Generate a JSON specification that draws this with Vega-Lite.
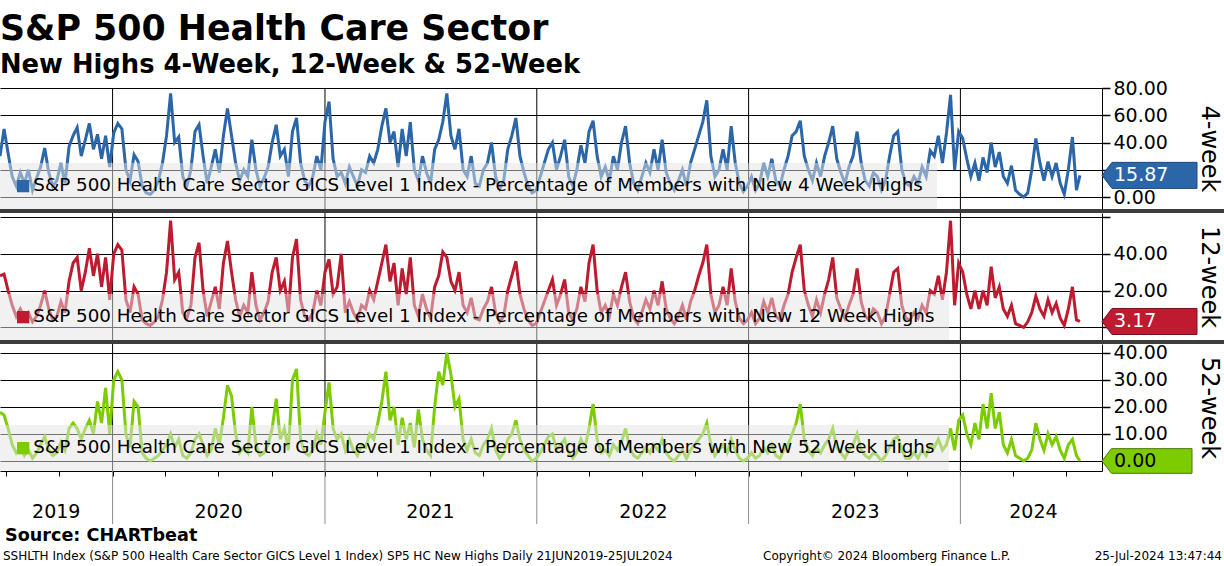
{
"$schema": "https://vega.github.io/schema/vega-lite/v6.json",
"padding": {"left": 0, "top": 12, "right": 0, "bottom": 0},
"background": "white",
"bounds": "flush",
"spacing": 0,
"resolve": {"scale": {"color": "independent", "x": "independent", "y": "independent"}, "legend": {"color": "independent"}},
"title": {"text": "S&P 500 Health Care Sector", "subtitle": "New Highs 4-Week, 12-Week & 52-Week", "anchor": "start", "frame": "group", "font": "DejaVu Sans", "fontSize": 34.8, "fontWeight": "bold", "color": "black", "subtitleFont": "DejaVu Sans", "subtitleFontSize": 25.8, "subtitleFontWeight": "bold", "subtitleColor": "black", "subtitlePadding": 5, "offset": 0},
"config": {
  "view": {"stroke": null},
  "axis": {"labelFont": "DejaVu Sans", "titleFont": "DejaVu Sans", "labelColor": "black", "titleColor": "black", "domainColor": "black", "tickColor": "black", "gridColor": "black", "labelOverlap": false},
  "text": {"font": "DejaVu Sans"}
},
"datasets": {
"yrs": [{"d":"2020-01-01"},{"d":"2021-01-01"},{"d":"2022-01-01"},{"d":"2023-01-01"},{"d":"2024-01-01"}],
"hc": [
{"d":"2019-06-21","a":30,"b":28,"c":18},{"d":"2019-06-28","a":50,"b":29,"c":17},{"d":"2019-07-05","a":32,"b":20,"c":12},{"d":"2019-07-12","a":15,"b":12,"c":6},{"d":"2019-07-19","a":8,"b":6,"c":3},{"d":"2019-07-26","a":18,"b":10,"c":5},{"d":"2019-08-02","a":10,"b":5,"c":2},{"d":"2019-08-09","a":20,"b":8,"c":4},{"d":"2019-08-16","a":5,"b":3,"c":1},{"d":"2019-08-23","a":14,"b":6,"c":3},{"d":"2019-08-30","a":22,"b":12,"c":6},{"d":"2019-09-06","a":36,"b":20,"c":9},{"d":"2019-09-13","a":18,"b":10,"c":4},{"d":"2019-09-20","a":8,"b":4,"c":2},{"d":"2019-09-27","a":12,"b":6,"c":3},{"d":"2019-10-04","a":25,"b":14,"c":7},{"d":"2019-10-11","a":10,"b":8,"c":4},{"d":"2019-10-18","a":37,"b":25,"c":12},{"d":"2019-10-25","a":45,"b":35,"c":14},{"d":"2019-11-01","a":51,"b":38,"c":12},{"d":"2019-11-08","a":30,"b":20,"c":8},{"d":"2019-11-15","a":42,"b":30,"c":12},{"d":"2019-11-22","a":54,"b":43,"c":15},{"d":"2019-11-29","a":35,"b":28,"c":10},{"d":"2019-12-06","a":46,"b":40,"c":22},{"d":"2019-12-13","a":28,"b":22,"c":14},{"d":"2019-12-20","a":45,"b":38,"c":27},{"d":"2019-12-27","a":22,"b":15,"c":10},
{"d":"2020-01-03","a":47,"b":40,"c":30},{"d":"2020-01-10","a":54,"b":45,"c":33},{"d":"2020-01-17","a":50,"b":42,"c":30},{"d":"2020-01-24","a":20,"b":15,"c":10},{"d":"2020-01-31","a":12,"b":8,"c":5},{"d":"2020-02-07","a":31,"b":22,"c":22},{"d":"2020-02-14","a":26,"b":18,"c":20},{"d":"2020-02-21","a":8,"b":4,"c":3},{"d":"2020-02-28","a":3,"b":2,"c":1},{"d":"2020-03-06","a":2,"b":1,"c":0},{"d":"2020-03-13","a":5,"b":3,"c":1},{"d":"2020-03-20","a":12,"b":6,"c":2},{"d":"2020-03-27","a":25,"b":15,"c":4},{"d":"2020-04-03","a":45,"b":30,"c":6},{"d":"2020-04-10","a":76,"b":58,"c":10},{"d":"2020-04-17","a":40,"b":26,"c":5},{"d":"2020-04-24","a":44,"b":30,"c":8},{"d":"2020-05-01","a":15,"b":8,"c":2},{"d":"2020-05-08","a":8,"b":5,"c":1},{"d":"2020-05-15","a":20,"b":12,"c":3},{"d":"2020-05-22","a":48,"b":38,"c":8},{"d":"2020-05-29","a":53,"b":46,"c":10},{"d":"2020-06-05","a":30,"b":20,"c":6},{"d":"2020-06-12","a":10,"b":6,"c":2},{"d":"2020-06-19","a":22,"b":14,"c":4},{"d":"2020-06-26","a":35,"b":22,"c":12},{"d":"2020-07-03","a":18,"b":10,"c":6},{"d":"2020-07-10","a":45,"b":35,"c":16},{"d":"2020-07-17","a":65,"b":47,"c":28},{"d":"2020-07-24","a":45,"b":30,"c":24},{"d":"2020-07-31","a":25,"b":15,"c":10},{"d":"2020-08-07","a":12,"b":6,"c":3},{"d":"2020-08-14","a":20,"b":12,"c":5},{"d":"2020-08-21","a":15,"b":8,"c":3},{"d":"2020-08-28","a":42,"b":30,"c":20},{"d":"2020-09-04","a":20,"b":12,"c":6},{"d":"2020-09-11","a":8,"b":4,"c":2},{"d":"2020-09-18","a":14,"b":8,"c":3},{"d":"2020-09-25","a":22,"b":14,"c":6},{"d":"2020-10-02","a":40,"b":30,"c":12},{"d":"2020-10-09","a":53,"b":38,"c":23},{"d":"2020-10-16","a":30,"b":20,"c":8},{"d":"2020-10-23","a":35,"b":25,"c":12},{"d":"2020-10-30","a":15,"b":8,"c":4},{"d":"2020-11-06","a":48,"b":38,"c":30},{"d":"2020-11-13","a":58,"b":48,"c":34},{"d":"2020-11-20","a":25,"b":15,"c":8},{"d":"2020-11-27","a":12,"b":6,"c":3},{"d":"2020-12-04","a":8,"b":4,"c":2},{"d":"2020-12-11","a":15,"b":8,"c":4},{"d":"2020-12-18","a":30,"b":20,"c":10},{"d":"2020-12-25","a":20,"b":12,"c":6},
{"d":"2021-01-01","a":55,"b":30,"c":18},{"d":"2021-01-08","a":70,"b":37,"c":29},{"d":"2021-01-15","a":28,"b":18,"c":12},{"d":"2021-01-22","a":15,"b":22,"c":8},{"d":"2021-01-29","a":18,"b":40,"c":10},{"d":"2021-02-05","a":10,"b":8,"c":4},{"d":"2021-02-12","a":22,"b":14,"c":8},{"d":"2021-02-19","a":15,"b":8,"c":4},{"d":"2021-02-26","a":8,"b":4,"c":2},{"d":"2021-03-05","a":20,"b":12,"c":6},{"d":"2021-03-12","a":18,"b":10,"c":5},{"d":"2021-03-19","a":30,"b":20,"c":10},{"d":"2021-03-26","a":25,"b":15,"c":8},{"d":"2021-04-02","a":35,"b":25,"c":14},{"d":"2021-04-09","a":52,"b":35,"c":22},{"d":"2021-04-16","a":65,"b":45,"c":33},{"d":"2021-04-23","a":40,"b":25,"c":15},{"d":"2021-04-30","a":48,"b":35,"c":20},{"d":"2021-05-07","a":22,"b":12,"c":6},{"d":"2021-05-14","a":50,"b":32,"c":16},{"d":"2021-05-21","a":30,"b":18,"c":8},{"d":"2021-05-28","a":55,"b":38,"c":14},{"d":"2021-06-04","a":20,"b":12,"c":5},{"d":"2021-06-11","a":12,"b":6,"c":19},{"d":"2021-06-18","a":30,"b":18,"c":8},{"d":"2021-06-25","a":18,"b":10,"c":4},{"d":"2021-07-02","a":10,"b":5,"c":2},{"d":"2021-07-09","a":35,"b":22,"c":20},{"d":"2021-07-16","a":42,"b":28,"c":33},{"d":"2021-07-23","a":55,"b":41,"c":28},{"d":"2021-07-30","a":76,"b":38,"c":40},{"d":"2021-08-06","a":45,"b":25,"c":32},{"d":"2021-08-13","a":35,"b":20,"c":20},{"d":"2021-08-20","a":50,"b":30,"c":23},{"d":"2021-08-27","a":20,"b":12,"c":8},{"d":"2021-09-03","a":15,"b":8,"c":4},{"d":"2021-09-10","a":30,"b":16,"c":8},{"d":"2021-09-17","a":10,"b":5,"c":3},{"d":"2021-09-24","a":8,"b":4,"c":2},{"d":"2021-10-01","a":20,"b":10,"c":6},{"d":"2021-10-08","a":25,"b":14,"c":8},{"d":"2021-10-15","a":40,"b":22,"c":12},{"d":"2021-10-22","a":15,"b":8,"c":4},{"d":"2021-10-29","a":6,"b":3,"c":1},{"d":"2021-11-05","a":12,"b":6,"c":3},{"d":"2021-11-12","a":35,"b":20,"c":8},{"d":"2021-11-19","a":45,"b":28,"c":10},{"d":"2021-11-26","a":58,"b":36,"c":15},{"d":"2021-12-03","a":30,"b":18,"c":8},{"d":"2021-12-10","a":18,"b":10,"c":4},{"d":"2021-12-17","a":8,"b":4,"c":2},{"d":"2021-12-24","a":3,"b":1,"c":0},{"d":"2021-12-31","a":5,"b":2,"c":1},
{"d":"2022-01-07","a":15,"b":8,"c":3},{"d":"2022-01-14","a":25,"b":14,"c":6},{"d":"2022-01-21","a":35,"b":20,"c":9},{"d":"2022-01-28","a":40,"b":26,"c":10},{"d":"2022-02-04","a":20,"b":12,"c":4},{"d":"2022-02-11","a":30,"b":18,"c":6},{"d":"2022-02-18","a":42,"b":26,"c":8},{"d":"2022-02-25","a":15,"b":8,"c":3},{"d":"2022-03-04","a":8,"b":4,"c":1},{"d":"2022-03-11","a":20,"b":10,"c":3},{"d":"2022-03-18","a":38,"b":22,"c":8},{"d":"2022-03-25","a":25,"b":14,"c":5},{"d":"2022-04-01","a":48,"b":35,"c":12},{"d":"2022-04-08","a":56,"b":45,"c":21},{"d":"2022-04-15","a":30,"b":20,"c":8},{"d":"2022-04-22","a":15,"b":8,"c":3},{"d":"2022-04-29","a":22,"b":12,"c":4},{"d":"2022-05-06","a":12,"b":6,"c":2},{"d":"2022-05-13","a":30,"b":18,"c":6},{"d":"2022-05-20","a":20,"b":12,"c":4},{"d":"2022-05-27","a":40,"b":22,"c":7},{"d":"2022-06-03","a":52,"b":30,"c":12},{"d":"2022-06-10","a":25,"b":14,"c":5},{"d":"2022-06-17","a":10,"b":5,"c":2},{"d":"2022-06-24","a":5,"b":2,"c":1},{"d":"2022-07-01","a":15,"b":8,"c":3},{"d":"2022-07-08","a":25,"b":15,"c":5},{"d":"2022-07-15","a":18,"b":10,"c":3},{"d":"2022-07-22","a":35,"b":20,"c":6},{"d":"2022-07-29","a":20,"b":12,"c":4},{"d":"2022-08-05","a":42,"b":25,"c":8},{"d":"2022-08-12","a":18,"b":10,"c":3},{"d":"2022-08-19","a":10,"b":5,"c":1},{"d":"2022-08-26","a":5,"b":2,"c":0},{"d":"2022-09-02","a":12,"b":6,"c":2},{"d":"2022-09-09","a":20,"b":12,"c":4},{"d":"2022-09-16","a":8,"b":4,"c":1},{"d":"2022-09-23","a":25,"b":14,"c":4},{"d":"2022-09-30","a":35,"b":20,"c":6},{"d":"2022-10-07","a":45,"b":28,"c":8},{"d":"2022-10-14","a":55,"b":35,"c":10},{"d":"2022-10-21","a":71,"b":45,"c":14},{"d":"2022-10-28","a":30,"b":18,"c":6},{"d":"2022-11-04","a":15,"b":8,"c":2},{"d":"2022-11-11","a":20,"b":12,"c":4},{"d":"2022-11-18","a":35,"b":22,"c":6},{"d":"2022-11-25","a":20,"b":12,"c":3},{"d":"2022-12-02","a":52,"b":32,"c":8},{"d":"2022-12-09","a":25,"b":14,"c":4},{"d":"2022-12-16","a":10,"b":5,"c":1},{"d":"2022-12-23","a":4,"b":2,"c":0},{"d":"2022-12-30","a":8,"b":4,"c":1},
{"d":"2023-01-06","a":15,"b":8,"c":3},{"d":"2023-01-13","a":5,"b":2,"c":1},{"d":"2023-01-20","a":10,"b":5,"c":2},{"d":"2023-01-27","a":25,"b":14,"c":5},{"d":"2023-02-03","a":15,"b":8,"c":3},{"d":"2023-02-10","a":28,"b":16,"c":6},{"d":"2023-02-17","a":12,"b":6,"c":2},{"d":"2023-02-24","a":8,"b":4,"c":1},{"d":"2023-03-03","a":20,"b":12,"c":4},{"d":"2023-03-10","a":30,"b":18,"c":6},{"d":"2023-03-17","a":45,"b":30,"c":10},{"d":"2023-03-24","a":48,"b":38,"c":14},{"d":"2023-03-31","a":56,"b":45,"c":21},{"d":"2023-04-07","a":30,"b":20,"c":8},{"d":"2023-04-14","a":20,"b":12,"c":4},{"d":"2023-04-21","a":12,"b":6,"c":2},{"d":"2023-04-28","a":25,"b":15,"c":5},{"d":"2023-05-05","a":15,"b":8,"c":3},{"d":"2023-05-12","a":30,"b":18,"c":6},{"d":"2023-05-19","a":40,"b":26,"c":8},{"d":"2023-05-26","a":52,"b":38,"c":12},{"d":"2023-06-02","a":28,"b":16,"c":5},{"d":"2023-06-09","a":18,"b":10,"c":3},{"d":"2023-06-16","a":10,"b":5,"c":1},{"d":"2023-06-23","a":22,"b":12,"c":4},{"d":"2023-06-30","a":30,"b":18,"c":6},{"d":"2023-07-07","a":48,"b":32,"c":10},{"d":"2023-07-14","a":25,"b":14,"c":4},{"d":"2023-07-21","a":12,"b":6,"c":2},{"d":"2023-07-28","a":8,"b":4,"c":1},{"d":"2023-08-04","a":18,"b":10,"c":3},{"d":"2023-08-11","a":15,"b":8,"c":2},{"d":"2023-08-18","a":5,"b":2,"c":0},{"d":"2023-08-25","a":12,"b":6,"c":2},{"d":"2023-09-01","a":30,"b":18,"c":5},{"d":"2023-09-08","a":45,"b":30,"c":8},{"d":"2023-09-15","a":48,"b":32,"c":9},{"d":"2023-09-22","a":20,"b":12,"c":4},{"d":"2023-09-29","a":10,"b":5,"c":1},{"d":"2023-10-06","a":8,"b":4,"c":1},{"d":"2023-10-13","a":15,"b":8,"c":3},{"d":"2023-10-20","a":10,"b":5,"c":1},{"d":"2023-10-27","a":22,"b":12,"c":4},{"d":"2023-11-03","a":15,"b":8,"c":2},{"d":"2023-11-10","a":34,"b":20,"c":6},{"d":"2023-11-17","a":30,"b":18,"c":5},{"d":"2023-11-24","a":45,"b":28,"c":8},{"d":"2023-12-01","a":25,"b":15,"c":4},{"d":"2023-12-08","a":47,"b":30,"c":6},{"d":"2023-12-15","a":75,"b":58,"c":12},{"d":"2023-12-22","a":20,"b":12,"c":4},{"d":"2023-12-29","a":48,"b":35,"c":15},
{"d":"2024-01-05","a":43,"b":30,"c":17},{"d":"2024-01-12","a":28,"b":18,"c":10},{"d":"2024-01-19","a":15,"b":10,"c":6},{"d":"2024-01-26","a":25,"b":20,"c":14},{"d":"2024-02-02","a":12,"b":10,"c":8},{"d":"2024-02-09","a":29,"b":20,"c":21},{"d":"2024-02-16","a":18,"b":12,"c":12},{"d":"2024-02-23","a":40,"b":33,"c":25},{"d":"2024-03-01","a":22,"b":16,"c":12},{"d":"2024-03-08","a":33,"b":22,"c":18},{"d":"2024-03-15","a":15,"b":10,"c":6},{"d":"2024-03-22","a":10,"b":6,"c":3},{"d":"2024-03-29","a":23,"b":12,"c":8},{"d":"2024-04-05","a":5,"b":2,"c":2},{"d":"2024-04-12","a":2,"b":1,"c":1},{"d":"2024-04-19","a":0,"b":0,"c":0},{"d":"2024-04-26","a":3,"b":3,"c":1},{"d":"2024-05-03","a":20,"b":8,"c":4},{"d":"2024-05-10","a":43,"b":17,"c":14},{"d":"2024-05-17","a":25,"b":10,"c":8},{"d":"2024-05-24","a":12,"b":6,"c":4},{"d":"2024-05-31","a":26,"b":15,"c":10},{"d":"2024-06-07","a":15,"b":8,"c":6},{"d":"2024-06-14","a":25,"b":13,"c":9},{"d":"2024-06-21","a":10,"b":5,"c":4},{"d":"2024-06-28","a":2,"b":1,"c":1},{"d":"2024-07-05","a":20,"b":10,"c":6},{"d":"2024-07-12","a":44,"b":22,"c":8},{"d":"2024-07-19","a":5,"b":4,"c":2},{"d":"2024-07-25","a":15.87,"b":3.17,"c":0}
]},
"vconcat": [
{
 "width": 1102, "height": 121,
 "data": {"name": "hc"},
 "resolve": {"axis": {"x": "independent", "y": "independent"}},
 "layer": [
  {"data": {"name": "yrs"}, "mark": {"type": "rule", "color": "black", "strokeWidth": 1}, "encoding": {"x": {"field": "d", "type": "temporal", "scale": {"domain": [{"year":2019,"month":6,"date":21},{"year":2024,"month":9,"date":1}], "nice": false}, "axis": null}}},
  {"mark": {"type": "line", "strokeWidth": 3, "clip": true}, "encoding": {
    "x": {"field": "d", "type": "temporal", "axis": null},
    "y": {"field": "a", "type": "quantitative", "scale": {"domain": [-8.8, 80], "nice": false, "zero": false}, "axis": {"orient": "right", "values": [0,20,40,60,80], "labelExpr": "datum.value == 20 ? '' : format(datum.value, '.2f')", "labelOverlap": false, "grid": true, "gridWidth": 1, "tickSize": 8, "tickWidth": 1.5, "labelFontSize": 19, "labelPadding": 3, "title": "4-week", "titleFontSize": 24, "titleFontWeight": "normal", "titlePadding": 29}},
    "color": {"datum": "S&P 500 Health Care Sector GICS Level 1 Index - Percentage of Members with New 4 Week Highs", "scale": {"range": ["#2b67a8"]}, "legend": {"title": null, "orient": "bottom-left", "offset": 0, "padding": 14, "fillColor": "rgba(228,228,228,0.5)", "symbolType": "square", "symbolSize": 150, "labelFontSize": 18.3, "labelFont": "DejaVu Sans", "labelColor": "black", "labelLimit": 1200, "labelOffset": 1, "encode": {"symbols": {"update": {"fill": {"value": "#2b67a8"}, "stroke": {"value": "#2b67a8"}, "strokeWidth": {"value": 0}, "opacity": {"value": 1}}}}}}
  }},
  {"transform": [{"joinaggregate": [{"op": "max", "field": "d", "as": "maxd"}]}, {"filter": "time(datum.d) == time(datum.maxd)"}], "mark": {"type": "point", "shape": "M0,0L0.21,-0.274L2,-0.274L2,0.274L0.21,0.274Z", "size": 9025, "filled": true, "opacity": 1, "color": "#2b67a8", "stroke": "#1c4a80", "strokeWidth": 1}, "encoding": {"x": {"value": "width"}, "y": {"field": "a", "type": "quantitative", "axis": null}}},
  {"transform": [{"joinaggregate": [{"op": "max", "field": "d", "as": "maxd"}]}, {"filter": "time(datum.d) == time(datum.maxd)"}], "mark": {"type": "text", "align": "left", "baseline": "middle", "dx": 12, "fontSize": 19, "color": "white"}, "encoding": {"x": {"value": "width"}, "y": {"field": "a", "type": "quantitative", "axis": null}, "text": {"field": "a", "type": "quantitative", "format": ".2f"}}}
 ]
},
{"width": 1224, "height": 4, "data": {"values": [{}]}, "mark": {"type": "text", "text": ""}, "encoding": {}, "view": {"fill": "#3c3c3c", "stroke": null}},
{
 "width": 1102, "height": 127,
 "data": {"name": "hc"},
 "resolve": {"axis": {"x": "independent", "y": "independent"}},
 "layer": [
  {"data": {"name": "yrs"}, "mark": {"type": "rule", "color": "black", "strokeWidth": 1}, "encoding": {"x": {"field": "d", "type": "temporal", "scale": {"domain": [{"year":2019,"month":6,"date":21},{"year":2024,"month":9,"date":1}], "nice": false}, "axis": null}}},
  {"mark": {"type": "line", "strokeWidth": 3, "clip": true}, "encoding": {
    "x": {"field": "d", "type": "temporal", "axis": null},
    "y": {"field": "b", "type": "quantitative", "scale": {"domain": [-6.9, 62.2], "nice": false, "zero": false}, "axis": {"orient": "right", "values": [0,20,40,60], "labelExpr": "datum.value == 0 || datum.value == 60 ? '' : format(datum.value, '.2f')", "labelOverlap": false, "grid": true, "gridWidth": 1, "tickSize": 8, "tickWidth": 1.5, "labelFontSize": 19, "labelPadding": 3, "title": "12-week", "titleFontSize": 24, "titleFontWeight": "normal", "titlePadding": 29}},
    "color": {"datum": "S&P 500 Health Care Sector GICS Level 1 Index - Percentage of Members with New 12 Week Highs", "scale": {"range": ["#be1a30"]}, "legend": {"title": null, "orient": "bottom-left", "offset": 0, "padding": 14, "fillColor": "rgba(228,228,228,0.5)", "symbolType": "square", "symbolSize": 150, "labelFontSize": 18.3, "labelFont": "DejaVu Sans", "labelColor": "black", "labelLimit": 1200, "labelOffset": 1, "encode": {"symbols": {"update": {"fill": {"value": "#be1a30"}, "stroke": {"value": "#be1a30"}, "strokeWidth": {"value": 0}, "opacity": {"value": 1}}}}}}
  }},
  {"transform": [{"joinaggregate": [{"op": "max", "field": "d", "as": "maxd"}]}, {"filter": "time(datum.d) == time(datum.maxd)"}], "mark": {"type": "point", "shape": "M0,0L0.21,-0.274L2,-0.274L2,0.274L0.21,0.274Z", "size": 9025, "filled": true, "opacity": 1, "color": "#be1a30", "stroke": "#7a1020", "strokeWidth": 1}, "encoding": {"x": {"value": "width"}, "y": {"field": "b", "type": "quantitative", "axis": null}}},
  {"transform": [{"joinaggregate": [{"op": "max", "field": "d", "as": "maxd"}]}, {"filter": "time(datum.d) == time(datum.maxd)"}], "mark": {"type": "text", "align": "left", "baseline": "middle", "dx": 12, "fontSize": 19, "color": "white"}, "encoding": {"x": {"value": "width"}, "y": {"field": "b", "type": "quantitative", "axis": null}, "text": {"field": "b", "type": "quantitative", "format": ".2f"}}}
 ]
},
{"width": 1224, "height": 4, "data": {"values": [{}]}, "mark": {"type": "text", "text": ""}, "encoding": {}, "view": {"fill": "#3c3c3c", "stroke": null}},
{
 "width": 1102, "height": 127,
 "data": {"name": "hc"},
 "resolve": {"axis": {"x": "independent", "y": "independent"}},
 "layer": [
  {"data": {"name": "yrs"}, "mark": {"type": "rule", "color": "black", "strokeWidth": 1}, "encoding": {"x": {"field": "d", "type": "temporal", "scale": {"domain": [{"year":2019,"month":6,"date":21},{"year":2024,"month":9,"date":1}], "nice": false}, "axis": null}}},
  {"mark": {"type": "line", "strokeWidth": 3, "clip": true}, "encoding": {
    "x": {"field": "d", "type": "temporal", "axis": {"orient": "bottom", "values": [{"year":2019,"month":7,"date":1},{"year":2019,"month":10,"date":1},{"year":2020,"month":1,"date":1},{"year":2020,"month":4,"date":1},{"year":2020,"month":7,"date":1},{"year":2020,"month":10,"date":1},{"year":2021,"month":1,"date":1},{"year":2021,"month":4,"date":1},{"year":2021,"month":7,"date":1},{"year":2021,"month":10,"date":1},{"year":2022,"month":1,"date":1},{"year":2022,"month":4,"date":1},{"year":2022,"month":7,"date":1},{"year":2022,"month":10,"date":1},{"year":2023,"month":1,"date":1},{"year":2023,"month":4,"date":1},{"year":2023,"month":7,"date":1},{"year":2023,"month":10,"date":1},{"year":2024,"month":1,"date":1},{"year":2024,"month":4,"date":1},{"year":2024,"month":7,"date":1}], "labels": false, "ticks": true, "tickSize": 5, "domain": true, "grid": false, "title": null}},
    "y": {"field": "c", "type": "quantitative", "scale": {"domain": [-3.7, 43.2], "nice": false, "zero": false}, "axis": {"orient": "right", "values": [0,10,20,30,40], "labelExpr": "datum.value == 0 ? '' : format(datum.value, '.2f')", "labelOverlap": false, "grid": true, "gridWidth": 1, "tickSize": 8, "tickWidth": 1.5, "labelFontSize": 19, "labelPadding": 3, "title": "52-week", "titleFontSize": 24, "titleFontWeight": "normal", "titlePadding": 29}},
    "color": {"datum": "S&P 500 Health Care Sector GICS Level 1 Index - Percentage of Members with New 52 Week Highs", "scale": {"range": ["#7dcc00"]}, "legend": {"title": null, "orient": "bottom-left", "offset": 0, "padding": 14, "fillColor": "rgba(228,228,228,0.5)", "symbolType": "square", "symbolSize": 150, "labelFontSize": 18.3, "labelFont": "DejaVu Sans", "labelColor": "black", "labelLimit": 1200, "labelOffset": 1, "encode": {"symbols": {"update": {"fill": {"value": "#7dcc00"}, "stroke": {"value": "#7dcc00"}, "strokeWidth": {"value": 0}, "opacity": {"value": 1}}}}}}
  }},
  {"transform": [{"joinaggregate": [{"op": "max", "field": "d", "as": "maxd"}]}, {"filter": "time(datum.d) == time(datum.maxd)"}], "mark": {"type": "point", "shape": "M0,0L0.21,-0.274L2,-0.274L2,0.274L0.21,0.274Z", "size": 8100, "filled": true, "opacity": 1, "color": "#7dcc00", "stroke": "#4a7a00", "strokeWidth": 1}, "encoding": {"x": {"value": "width"}, "y": {"field": "c", "type": "quantitative", "axis": null}}},
  {"transform": [{"joinaggregate": [{"op": "max", "field": "d", "as": "maxd"}]}, {"filter": "time(datum.d) == time(datum.maxd)"}], "mark": {"type": "text", "align": "left", "baseline": "middle", "dx": 12, "fontSize": 19, "color": "black"}, "encoding": {"x": {"value": "width"}, "y": {"field": "c", "type": "quantitative", "axis": null}, "text": {"field": "c", "type": "quantitative", "format": ".2f"}}}
 ]
},
{
 "width": 1102, "height": 53,
 "data": {"name": "yrs"},
 "mark": {"type": "rule", "color": "#8c8c8c", "strokeWidth": 1},
 "encoding": {"x": {"field": "d", "type": "temporal", "scale": {"domain": [{"year":2019,"month":6,"date":21},{"year":2024,"month":9,"date":1}], "nice": false}, "axis": {"orient": "bottom", "values": [{"year":2019,"month":9,"date":25},{"year":2020,"month":7,"date":1},{"year":2021,"month":7,"date":1},{"year":2022,"month":7,"date":3},{"year":2023,"month":7,"date":3},{"year":2024,"month":5,"date":5}], "format": "%Y", "labelFontSize": 19, "domain": false, "ticks": false, "grid": false, "offset": -22, "labelPadding": 0, "labelFlush": false, "title": null}}}
},
{
 "width": 1224, "height": 41,
 "data": {"values": [{}]},
 "layer": [
  {"mark": {"type": "text", "text": "Source: CHARTbeat", "x": 5, "y": 12, "align": "left", "baseline": "middle", "fontSize": 17.6, "fontWeight": "bold", "color": "black"}, "encoding": {}},
  {"mark": {"type": "text", "text": "SSHLTH Index (S&P 500 Health Care Sector GICS Level 1 Index) SP5 HC New Highs  Daily 21JUN2019-25JUL2024", "x": 3, "y": 32, "align": "left", "baseline": "middle", "fontSize": 12, "color": "black"}, "encoding": {}},
  {"mark": {"type": "text", "text": "Copyright© 2024 Bloomberg Finance L.P.", "x": 763, "y": 32, "align": "left", "baseline": "middle", "fontSize": 12, "color": "black"}, "encoding": {}},
  {"mark": {"type": "text", "text": "25-Jul-2024 13:47:44", "x": 1222, "y": 32, "align": "right", "baseline": "middle", "fontSize": 12, "color": "black"}, "encoding": {}}
 ]
}
]
}
